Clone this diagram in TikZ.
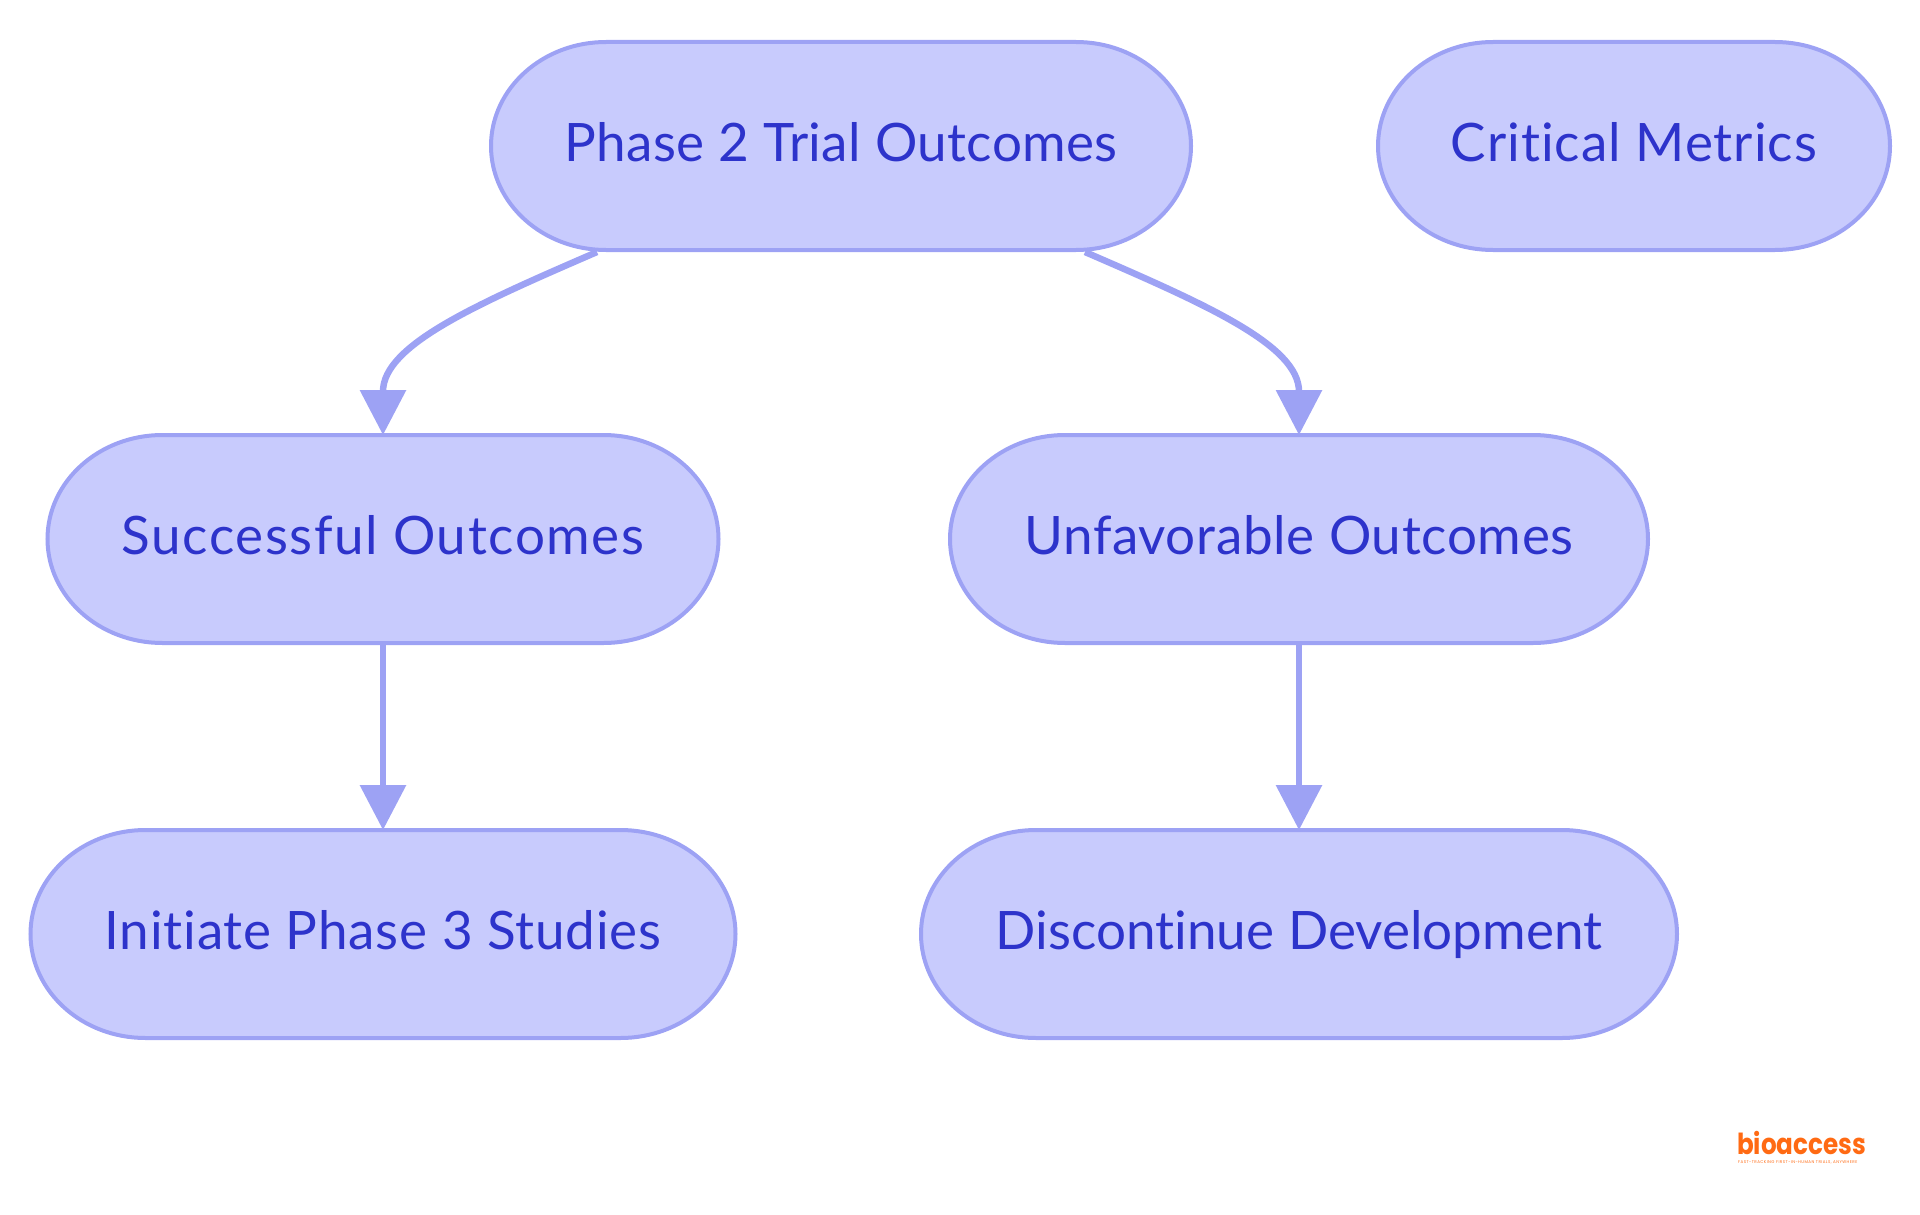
\documentclass[tikz,border=0pt]{standalone}
\usepackage{fontspec}
\usetikzlibrary{arrows.meta,calc}
\setmainfont{Lato}[Ligatures=NoCommon]
\newfontfamily\logofont{Poppins}[FakeStretch=0.85]
\newfontfamily\tagfont{Poppins}[LetterSpace=11]
\definecolor{nodefill}{HTML}{C8CBFD}
\definecolor{nodeline}{HTML}{9DA2F4}
\definecolor{nodetext}{HTML}{2D33CB}
\definecolor{logoorange}{HTML}{FF6A13}
\tikzset{
  pillshape/.style={draw=nodeline,fill=nodefill,line width=4pt},
  pilltext/.style={minimum height=208pt,inner sep=0pt,outer sep=0pt,text=nodetext,text height=38pt,text depth=8pt,font=\fontsize{53}{60}\selectfont},
  edge/.style={draw=nodeline,line width=6.5pt,-{Triangle[length=45pt,width=45pt]}},
  logotext/.style={text=logoorange,inner sep=0pt,anchor=base west}
}
% name, cx, cy, width, letter space, text
\newcommand\pillbox[6]{%
  \draw[pillshape] (#2,#3) ++({-#4/2+115},-104) -- ++({#4-230},0)
     arc[start angle=90,end angle=-90,x radius=115pt,y radius=104pt]
     -- ++({-#4+230},0)
     arc[start angle=270,end angle=90,x radius=115pt,y radius=104pt] -- cycle;
  \node[pilltext,minimum width=#4 pt] (#1) at (#2,#3) {\addfontfeature{LetterSpace=#5}#6};
}
\begin{document}
\begin{tikzpicture}[x=1pt,y=-1pt]
\useasboundingbox (0,0) rectangle (1920,1215);
\pillbox{phase}{841}{146}{700}{0.75}{Phase 2 Trial Outcomes}
\pillbox{crit}{1634}{146}{512}{1.9}{Critical Metrics}
\pillbox{succ}{383}{539}{671}{3}{Successful Outcomes}
\pillbox{unfav}{1299}{539}{698}{1.3}{Unfavorable Outcomes}
\pillbox{init}{383}{934}{705}{1.5}{Initiate Phase 3 Studies}
\pillbox{disc}{1299}{934}{756}{0.1}{Discontinue Development}
\draw[edge] ($(phase.south)+(-244,2)$) .. controls +(-120,52) and (383,345) .. (succ.north);
\draw[edge] ($(phase.south)+(244,2)$) .. controls +(120,52) and (1299,345) .. (unfav.north);
\draw[edge] (succ) -- (init);
\draw[edge] (unfav) -- (disc);
\node[logotext,font=\logofont\bfseries\fontsize{29}{30}\selectfont] (logo) at (1737,1154) {bioaccess};
\node[logotext,font=\logofont\fontsize{7}{8}\selectfont] (reg) at (1862,1143) {®};
\node[logotext,font=\tagfont\fontsize{4}{5}\selectfont] (tag) at (1738,1163) {FAST-TRACKING FIRST-IN-HUMAN TRIALS, ANYWHERE};
\end{tikzpicture}
\end{document}
